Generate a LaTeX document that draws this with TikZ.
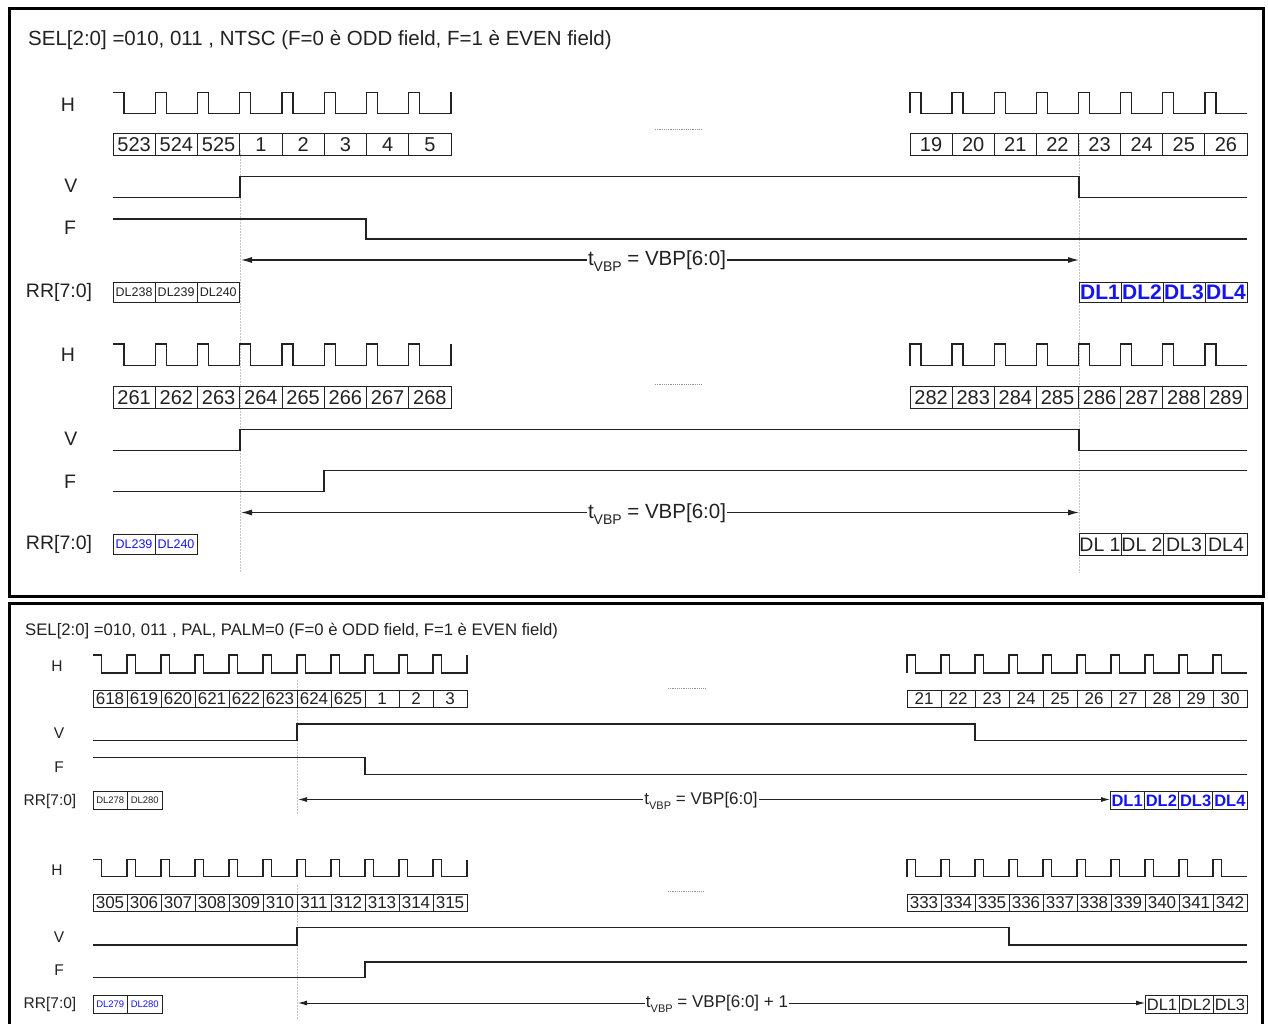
\documentclass[tikz,border=0pt]{standalone}
\usepackage{fontspec}
\setmainfont{Liberation Sans}
\usetikzlibrary{arrows.meta}
\definecolor{ink}{HTML}{222222}
\definecolor{dlblue}{HTML}{1414F5}
\newcommand{\fsz}[1]{\fontsize{#1}{#1}\selectfont}
% left H waveform: #1 x0, #2 w, #3 n, #4 yhi, #5 ylo, #6 pulse, #7 n-1
\newcommand{\HwaveLeft}[7]{%
  \draw[sig] (#1,#4) -- ({#1+#6},#4) -- ({#1+#6},#5)
    \foreach \k in {1,...,#7} { -- ({#1+\k*#2},#5) -- ({#1+\k*#2},#4) -- ({#1+\k*#2+#6},#4) -- ({#1+\k*#2+#6},#5) }
    -- ({#1+#3*#2},#5) -- ({#1+#3*#2},#4);}
% right H waveform: #1 x0, #2 w, #3 n-1, #4 yhi, #5 ylo, #6 pulse
\newcommand{\HwaveRight}[6]{%
  \draw[sig] (#1,#5)
    \foreach \k in {0,...,#3} { -- ({#1+\k*#2},#4) -- ({#1+\k*#2+#6},#4) -- ({#1+\k*#2+#6},#5) -- ({#1+(\k+1)*#2},#5) };}
% row of cells: #1 prefix, #2 x0, #3 w, #4 yc, #5 style, #6 list
\newcommand{\cellrow}[6]{%
  \foreach \t [count=\i] in {#6} \node[#5, minimum width={#3pt}] (#1\i) at ({#2+#3*(\i-0.5)},#4) {\t};}
\begin{document}
\begin{tikzpicture}[x=1pt,y=-1pt,
  sig/.style={draw=ink, line width=1.4pt},
  sigs/.style={draw=ink, line width=1.2pt},
  frame/.style={draw=black, line width=3pt},
  guide/.style={draw=gray!45, line width=0.7pt, dash pattern=on 2pt off 1pt},
  dots/.style={draw=gray!85, line width=1pt, dash pattern=on 1.2pt off 1pt},
  arr/.style={draw=ink, line width=1.2pt, -{Latex[length=11pt,width=6pt]}},
  arrs/.style={draw=ink, line width=1pt, -{Latex[length=9pt,width=5pt]}},
  lab/.style={text=ink, inner sep=0pt, font=\fsz{19.5}},
  labs/.style={text=ink, inner sep=0pt, font=\fsz{15.5}},
  cellA/.style={draw=ink, line width=1pt, minimum height=22pt, inner sep=0pt, text=ink, font=\fsz{20}},
  cellB/.style={draw=ink, line width=0.9pt, minimum height=17.5pt, inner sep=0pt, text=ink, font=\fsz{17}},
  rrA/.style={draw=ink, line width=1pt, minimum height=20pt, inner sep=0pt, text=ink, font=\fsz{12.5}},
  rrAb/.style={rrA, text=dlblue},
  dlA/.style={draw=ink, line width=1pt, minimum height=20pt, inner sep=0pt, text=dlblue, font=\fsz{21}\bfseries},
  dlAk/.style={draw=ink, line width=1pt, minimum height=22pt, inner sep=0pt, text=ink, font=\fsz{19.5}},
  rrB/.style={draw=ink, line width=0.9pt, minimum height=17.5pt, inner sep=0pt, text=ink, font=\fsz{9.5}},
  rrBb/.style={rrB, text=dlblue},
  dlB/.style={draw=ink, line width=0.9pt, minimum height=17.5pt, inner sep=0pt, text=dlblue, font=\fsz{16.5}\bfseries},
  dlBk/.style={draw=ink, line width=0.9pt, minimum height=17.5pt, inner sep=0pt, text=ink, font=\fsz{16.5}},
  tlab/.style={fill=white, text=ink, inner sep=1pt, font=\fsz{20.5}},
  tlabs/.style={fill=white, text=ink, inner sep=1pt, font=\fsz{17}}
]
\useasboundingbox (0,0) rectangle (1268,1024);
\fill[white] (0,0) rectangle (1268,1024);

% ================= TOP PANEL (NTSC) =================
\draw[frame] (9,9) rectangle (1263.5,596.5);
\node[text=ink, anchor=west, inner sep=0pt, font=\fsz{20.5}] (title1) at (28,40)
  {SEL[2:0] =010, 011 , NTSC (F=0 è ODD field, F=1 è EVEN field)};

% guides
\draw[guide] (240,150) -- (240,573);
\draw[guide] (1079,140) -- (1079,573);

% --- sub 1 ---
\node[lab] (H1) at (68,105) {H};
\node[lab] (V1) at (71,186) {V};
\node[lab] (F1) at (70,228) {F};
\node[lab] (RR1) at (59,292) {RR[7:0]};
\HwaveLeft{113}{42.25}{8}{92.5}{113.5}{11}{7}
\HwaveRight{910}{42.125}{7}{92.5}{113.5}{11}
\cellrow{na}{113}{42.25}{145}{cellA}{523,524,525,1,2,3,4,5}
\cellrow{nb}{910}{42.125}{145}{cellA}{19,20,21,22,23,24,25,26}
\draw[dots] (655,130) -- (703,130);
\draw[sig] (113,197.5) -- (240,197.5) -- (240,176.5) -- (1079,176.5) -- (1079,197.5) -- (1247,197.5);
\draw[sig] (113,219) -- (366,219) -- (366,239) -- (1247,239);
\node[tlab] (t1) at (657,261) {t\raisebox{-0.28em}{\fsz{14}VBP} = VBP[6:0]};
\coordinate (t1L) at (241,260);
\coordinate (t1R) at (1079,260);
\draw[arr] (t1.west |- t1L) -- (t1L);
\draw[arr] (t1.east |- t1R) -- (t1R);
\cellrow{ra}{113}{42.1}{292}{rrA}{DL238,DL239,DL240}
\cellrow{rb}{1079}{42}{292}{dlA}{DL1,DL2,DL3,DL4}

% --- sub 2 ---
\node[lab] (H2) at (68,355) {H};
\node[lab] (V2) at (71,439) {V};
\node[lab] (F2) at (70,482) {F};
\node[lab] (RR2) at (59,544.5) {RR[7:0]};
\HwaveLeft{113}{42.25}{8}{344}{365.5}{11}{7}
\HwaveRight{910}{42.125}{7}{344}{365.5}{11}
\cellrow{nc}{113}{42.25}{397.5}{cellA}{261,262,263,264,265,266,267,268}
\cellrow{nd}{910}{42.125}{397.5}{cellA}{282,283,284,285,286,287,288,289}
\draw[dots] (655,384) -- (703,384);
\draw[sig] (113,450.5) -- (240,450.5) -- (240,429.5) -- (1079,429.5) -- (1079,450.5) -- (1247,450.5);
\draw[sig] (113,491.5) -- (324,491.5) -- (324,470.5) -- (1247,470.5);
\node[tlab] (t2) at (657,514) {t\raisebox{-0.28em}{\fsz{14}VBP} = VBP[6:0]};
\coordinate (t2L) at (241,512.5);
\coordinate (t2R) at (1079,512.5);
\draw[arr] (t2.west |- t2L) -- (t2L);
\draw[arr] (t2.east |- t2R) -- (t2R);
\cellrow{rc}{113}{42}{544.5}{rrAb}{DL239,DL240}
\cellrow{rd}{1079}{42}{544.5}{dlAk}{DL 1,DL 2,DL3,DL4}

% ================= BOTTOM PANEL (PAL) =================
\draw[frame] (9,1030) -- (9,603) -- (1262,603) -- (1262,1030);
\node[text=ink, anchor=west, inner sep=0pt, font=\fsz{16.7}] (title2) at (25,631)
  {SEL[2:0] =010, 011 , PAL, PALM=0 (F=0 è ODD field, F=1 è EVEN field)};

\draw[guide] (297,680) -- (297,815);
\draw[guide] (297,885) -- (297,1020);

% --- sub 3 ---
\node[labs] (H3) at (57,666) {H};
\node[labs] (V3) at (59,733) {V};
\node[labs] (F3) at (59,767) {F};
\node[labs] (RR3) at (50,801) {RR[7:0]};
\HwaveLeft{93}{34}{11}{655}{673}{8.7}{10}
\HwaveRight{907}{34}{9}{655}{673}{8.7}
\cellrow{ne}{93}{34}{699}{cellB}{618,619,620,621,622,623,624,625,1,2,3}
\cellrow{nf}{907}{34}{699}{cellB}{21,22,23,24,25,26,27,28,29,30}
\draw[dots] (668,688) -- (706,688);
\draw[sigs] (93,740.5) -- (297,740.5) -- (297,724) -- (975,724) -- (975,740.5) -- (1247,740.5);
\draw[sigs] (93,757.5) -- (365,757.5) -- (365,774.5) -- (1247,774.5);
\node[tlabs] (t3) at (701,800.5) {t\raisebox{-0.28em}{\fsz{11}VBP} = VBP[6:0]};
\coordinate (t3L) at (298,799.5);
\coordinate (t3R) at (1110,799.5);
\draw[arrs] (t3.west |- t3L) -- (t3L);
\draw[arrs] (t3.east |- t3R) -- (t3R);
\cellrow{re}{93}{34.5}{800.5}{rrB}{DL278,DL280}
\cellrow{rf}{1110}{34.25}{800.5}{dlB}{DL1,DL2,DL3,DL4}

% --- sub 4 ---
\node[labs] (H4) at (57,870) {H};
\node[labs] (V4) at (59,937) {V};
\node[labs] (F4) at (59,970) {F};
\node[labs] (RR4) at (50,1004) {RR[7:0]};
\HwaveLeft{93}{34}{11}{859.5}{876.5}{8.7}{10}
\HwaveRight{907}{34}{9}{859.5}{876.5}{8.7}
\cellrow{ng}{93}{34}{903}{cellB}{305,306,307,308,309,310,311,312,313,314,315}
\cellrow{nh}{907}{34}{903}{cellB}{333,334,335,336,337,338,339,340,341,342}
\draw[dots] (668,891) -- (704,891);
\draw[sigs] (93,945) -- (297,945) -- (297,927.5) -- (1009,927.5) -- (1009,945) -- (1247,945);
\draw[sigs] (93,977.5) -- (365,977.5) -- (365,962) -- (1247,962);
\node[tlabs] (t4) at (717,1004) {t\raisebox{-0.28em}{\fsz{11}VBP} = VBP[6:0] + 1};
\coordinate (t4L) at (298,1003);
\coordinate (t4R) at (1145,1003);
\draw[arrs] (t4.west |- t4L) -- (t4L);
\draw[arrs] (t4.east |- t4R) -- (t4R);
\cellrow{rg}{93}{34.5}{1004.5}{rrBb}{DL279,DL280}
\cellrow{rh}{1145}{34}{1004.5}{dlBk}{DL1,DL2,DL3}
\end{tikzpicture}
\end{document}
